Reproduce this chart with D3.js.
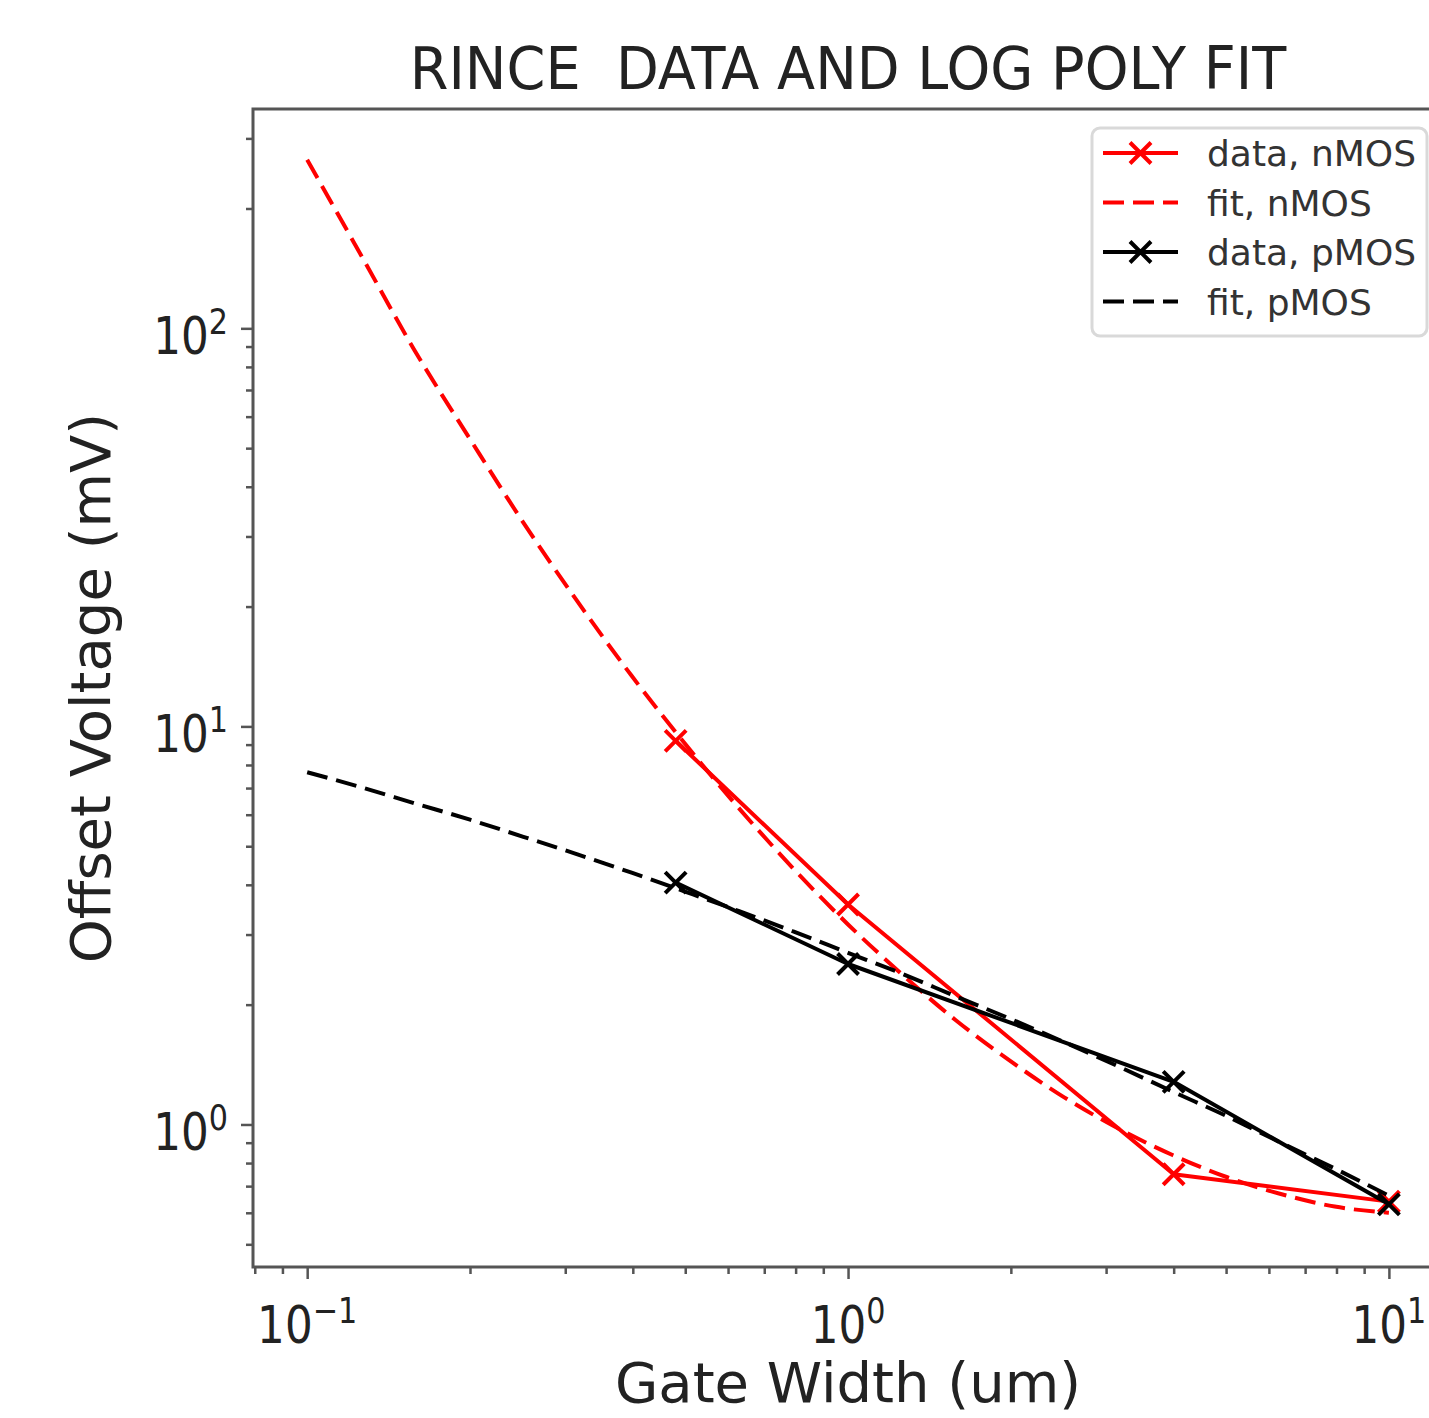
<!DOCTYPE html>
<html>
<head>
<meta charset="utf-8">
<script src="https://cdn.jsdelivr.net/npm/d3@7"></script>
<style>
  body { margin: 0; background: #fff; }
  svg { display: block; font-family: "DejaVu Sans", sans-serif; }
</style>
</head>
<body>
<svg id="chart" width="1429" height="1418"></svg>
<script>
const title = "RINCE  DATA AND LOG POLY FIT";
const xLabel = "Gate Width (um)";
const yLabel = "Offset Voltage (mV)";

// measured points
const widths = [0.48, 1, 4, 10];
const nmosData = [9.2, 3.57, 0.75, 0.64];
const pmosData = [4.05, 2.53, 1.28, 0.63];

// fit curves
const fitWidths = [0.1, 0.126, 0.158, 0.2, 0.251, 0.316, 0.398, 0.501, 0.631, 0.794, 1, 1.26, 1.58, 2, 2.51, 3.16, 3.98, 5.01, 6.31, 7.94, 10];
const nmosFit = [265, 152, 88, 52.7, 32.5, 20.6, 13.4, 9.0, 6.19, 4.38, 3.18, 2.38, 1.83, 1.44, 1.17, 0.977, 0.838, 0.738, 0.669, 0.622, 0.60];
const pmosFit = [7.67, 7.03, 6.41, 5.83, 5.28, 4.77, 4.29, 3.84, 3.43, 3.05, 2.70, 2.39, 2.10, 1.84, 1.61, 1.40, 1.21, 1.05, 0.90, 0.775, 0.662];

const xTicks = [0.1, 1, 10];
const xTickExp = ["\u22121", "0", "1"];
const yTicks = [1, 10, 100];
const yTickExp = ["0", "1", "2"];

const legendLabels = ["data, nMOS", "fit, nMOS", "data, pMOS", "fit, pMOS"];
const legendColors = ["red", "red", "black", "black"];

const svg = d3.select("#chart");
const margin = { top: 109, right: 1443, bottom: 1267, left: 253 };
const lw = 4;

const x = d3.scaleLog().domain([0.0794, 12.59]).range([margin.left, margin.right]);
const y = d3.scaleLog().domain([0.4385, 355.6]).range([margin.bottom, margin.top]);

// minor tick positions
const xMinor = [], yMinor = [];
[0.01, 0.1, 1].forEach((d) => {
  for (let k = 2; k <= 9; k++) xMinor.push(+(d * k).toPrecision(3));
});
[0.1, 1, 10, 100].forEach((d) => {
  for (let k = 2; k <= 9; k++) yMinor.push(+(d * k).toPrecision(3));
});
const inX = (v) => v >= x.domain()[0] && v <= x.domain()[1];
const inY = (v) => v >= y.domain()[0] && v <= y.domain()[1];

const tickColor = "#555";

const styleAxis = (g) => {
  g.select(".domain").remove();
  g.selectAll(".tick line").attr("stroke", tickColor).attr("stroke-width", 2.5);
  g.selectAll(".tick text").remove();
};

svg.append("g")
  .attr("transform", `translate(0,${margin.bottom})`)
  .call(d3.axisBottom(x).tickValues(xMinor.filter(inX)).tickSize(7).tickFormat(""))
  .call(styleAxis);
svg.append("g")
  .attr("transform", `translate(0,${margin.bottom})`)
  .call(d3.axisBottom(x).tickValues(xTicks).tickSize(12).tickFormat(""))
  .call(styleAxis);
svg.append("g")
  .attr("transform", `translate(${margin.left},0)`)
  .call(d3.axisLeft(y).tickValues(yMinor.filter(inY)).tickSize(7).tickFormat(""))
  .call(styleAxis);
svg.append("g")
  .attr("transform", `translate(${margin.left},0)`)
  .call(d3.axisLeft(y).tickValues(yTicks).tickSize(12).tickFormat(""))
  .call(styleAxis);

// tick labels, 10 with superscript exponent
const tickLabel = (g, exp, anchor) => {
  const t = g.append("text")
    .attr("text-anchor", anchor)
    .attr("font-size", 52)
    .attr("fill", "#222");
  t.append("tspan").text("10");
  t.append("tspan").attr("font-size", 36).attr("dy", -20).text(exp);
};

xTicks.forEach((v, i) => {
  const g = svg.append("g").attr("transform", `translate(${x(v)},1343) scale(0.84,1)`);
  tickLabel(g, xTickExp[i], "middle");
});
yTicks.forEach((v, i) => {
  const g = svg.append("g").attr("transform", `translate(228,${y(v) + 26}) scale(0.84,1)`);
  tickLabel(g, yTickExp[i], "end");
});

// clip for the plot lines
svg.append("clipPath").attr("id", "plot-clip")
  .append("rect")
  .attr("x", margin.left).attr("y", margin.top)
  .attr("width", margin.right - margin.left).attr("height", margin.bottom - margin.top);

const plot = svg.append("g").attr("clip-path", "url(#plot-clip)");

const line = d3.line()
  .x((d) => x(d[0]))
  .y((d) => y(d[1]));
const smooth = d3.line()
  .curve(d3.curveMonotoneX)
  .x((d) => x(d[0]))
  .y((d) => y(d[1]));

const crossPath = (s) => `M${-s},${-s}L${s},${s}M${-s},${s}L${s},${-s}`;

const drawData = (vals, color) => {
  const pts = widths.map((w, i) => [w, vals[i]]);
  plot.append("path")
    .datum(pts)
    .attr("fill", "none")
    .attr("stroke", color)
    .attr("stroke-width", lw)
    .attr("stroke-linejoin", "round")
    .attr("d", line);
  plot.selectAll(null)
    .data(pts)
    .join("path")
    .attr("transform", (d) => `translate(${x(d[0])},${y(d[1])})`)
    .attr("d", crossPath(10.5))
    .attr("stroke", color)
    .attr("stroke-width", lw);
};

const drawFit = (vals, color) => {
  plot.append("path")
    .datum(fitWidths.map((w, i) => [w, vals[i]]))
    .attr("fill", "none")
    .attr("stroke", color)
    .attr("stroke-width", lw)
    .attr("stroke-dasharray", "21,9")
    .attr("d", smooth);
};

drawData(nmosData, "red");
drawFit(nmosFit, "red");
drawData(pmosData, "black");
drawFit(pmosFit, "black");

// spines
const spine = svg.append("g").attr("stroke", tickColor).attr("stroke-width", 3).attr("fill", "none");
spine.append("rect")
  .attr("x", margin.left).attr("y", margin.top)
  .attr("width", margin.right - margin.left).attr("height", margin.bottom - margin.top);

// title and axis labels
svg.append("g")
  .attr("transform", `translate(${(margin.left + margin.right) / 2},89) scale(0.96,1)`)
  .append("text")
  .attr("text-anchor", "middle")
  .attr("font-size", 58)
  .attr("fill", "#222")
  .style("white-space", "pre")
  .text(title);

svg.append("text")
  .attr("x", (margin.left + margin.right) / 2)
  .attr("y", 1402)
  .attr("text-anchor", "middle")
  .attr("font-size", 56)
  .attr("fill", "#222")
  .text(xLabel);

svg.append("text")
  .attr("transform", `translate(110,${(margin.top + margin.bottom) / 2}) rotate(-90)`)
  .attr("text-anchor", "middle")
  .attr("font-size", 56)
  .attr("fill", "#222")
  .text(yLabel);

// legend
const legend = svg.append("g");
legend.append("rect")
  .attr("x", 1092).attr("y", 128)
  .attr("width", 335).attr("height", 208)
  .attr("rx", 8)
  .attr("fill", "#fff")
  .attr("fill-opacity", 0.8)
  .attr("stroke", "#d9d9d9")
  .attr("stroke-width", 3);

legendLabels.forEach((label, i) => {
  const cy = 153 + i * 49.5;
  const row = legend.append("g").attr("transform", `translate(0,${cy})`);
  const isFit = label.startsWith("fit");
  row.append("line")
    .attr("x1", 1103).attr("x2", 1178)
    .attr("stroke", legendColors[i])
    .attr("stroke-width", lw)
    .attr("stroke-dasharray", isFit ? "21,9" : null);
  if (!isFit) {
    row.append("path")
      .attr("transform", "translate(1140.5,0)")
      .attr("d", crossPath(10.5))
      .attr("stroke", legendColors[i])
      .attr("stroke-width", lw);
  }
  row.append("text")
    .attr("x", 1207)
    .attr("y", 13)
    .attr("font-size", 36)
    .attr("fill", "#333")
    .text(label);
});
</script>
</body>
</html>
